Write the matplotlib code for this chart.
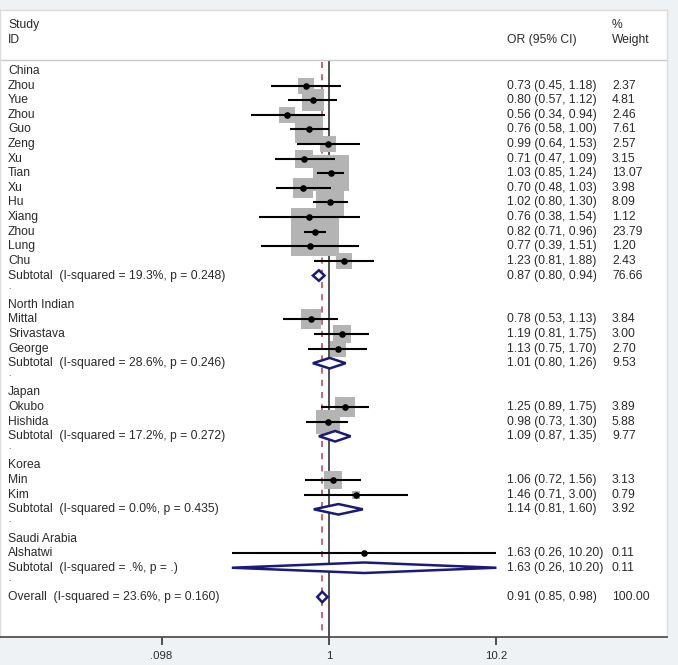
import matplotlib
matplotlib.use('Agg')
import matplotlib.pyplot as plt
from matplotlib.patches import Polygon

plt.rcParams['font.family'] = ['Liberation Sans', 'DejaVu Sans']

# data
group_names = ['China', 'North Indian', 'Japan', 'Korea', 'Saudi Arabia']
study_group = [0] * 13 + [1] * 3 + [2] * 2 + [3] * 2 + [4]
study_names = ['Zhou', 'Yue', 'Zhou', 'Guo', 'Zeng', 'Xu', 'Tian', 'Xu', 'Hu', 'Xiang', 'Zhou', 'Lung', 'Chu',
               'Mittal', 'Srivastava', 'George',
               'Okubo', 'Hishida',
               'Min', 'Kim',
               'Alshatwi']
study_or = [0.73, 0.80, 0.56, 0.76, 0.99, 0.71, 1.03, 0.70, 1.02, 0.76, 0.82, 0.77, 1.23,
            0.78, 1.19, 1.13, 1.25, 0.98, 1.06, 1.46, 1.63]
study_lo = [0.45, 0.57, 0.34, 0.58, 0.64, 0.47, 0.85, 0.48, 0.80, 0.38, 0.71, 0.39, 0.81,
            0.53, 0.81, 0.75, 0.89, 0.73, 0.72, 0.71, 0.26]
study_hi = [1.18, 1.12, 0.94, 1.00, 1.53, 1.09, 1.24, 1.03, 1.30, 1.54, 0.96, 1.51, 1.88,
            1.13, 1.75, 1.70, 1.75, 1.30, 1.56, 3.00, 10.20]
study_wt = [2.37, 4.81, 2.46, 7.61, 2.57, 3.15, 13.07, 3.98, 8.09, 1.12, 23.79, 1.20, 2.43,
            3.84, 3.00, 2.70, 3.89, 5.88, 3.13, 0.79, 0.11]

sub_or = [0.87, 1.01, 1.09, 1.14, 1.63]
sub_lo = [0.80, 0.80, 0.87, 0.81, 0.26]
sub_hi = [0.94, 1.26, 1.35, 1.60, 10.20]
sub_wt = [76.66, 9.53, 9.77, 3.92, 0.11]
sub_i2 = ['19.3%', '28.6%', '17.2%', '0.0%', '.%']
sub_p = ['0.248', '0.246', '0.272', '0.435', '.']

overall = (0.91, 0.85, 0.98, 100.00)
overall_i2, overall_p = '23.6%', '0.160'

tick_vals = [0.098, 1, 10.2]
tick_labels = ['.098', '1', '10.2']

txt_col = '#2a2a2a'
navy = '#1a1a7a'

fig = plt.figure(figsize=(6.78, 6.65), dpi=100, facecolor='#eef2f4')
ax = fig.add_axes([0, 28 / 665, 667 / 678, 627 / 665])
ax.set_facecolor('white')
ax.set_xscale('log')
ax.set_xlim(0.01043, 108.7)
ax.set_ylim(38.74, -4.175)

tr = ax.get_yaxis_transform()
fs = 8.7
x_lab, x_or, x_wt = 8 / 667, 507 / 667, 612 / 667


def row_text(y, label, est, lo, hi, wt):
    ax.text(x_lab, y, label, transform=tr, fontsize=fs, color=txt_col, va='center')
    ax.text(x_or, y, f'{est:.2f} ({lo:.2f}, {hi:.2f})', transform=tr, fontsize=fs,
            color=txt_col, va='center')
    ax.text(x_wt, y, f'{wt:.2f}', transform=tr, fontsize=fs, color=txt_col, va='center')


def diamond(y, est, lo, hi, h=0.36):
    ax.add_patch(Polygon([(lo, y), (est, y - h), (hi, y), (est, y + h)], closed=True,
                         facecolor='white', edgecolor=navy, lw=1.8, zorder=4))


# header
ax.text(x_lab, -3.15, 'Study', transform=tr, fontsize=fs, color=txt_col, va='center')
ax.text(x_lab, -2.12, 'ID', transform=tr, fontsize=fs, color=txt_col, va='center')
ax.text(x_or, -2.12, 'OR (95% CI)', transform=tr, fontsize=fs, color=txt_col, va='center')
ax.text(x_wt, -3.15, '%', transform=tr, fontsize=fs, color=txt_col, va='center')
ax.text(x_wt, -2.12, 'Weight', transform=tr, fontsize=fs, color=txt_col, va='center')
ax.axhline(-0.75, color='#c8c8c8', lw=1)

row = 0
for g, gname in enumerate(group_names):
    ax.text(x_lab, row, gname, transform=tr, fontsize=fs, color=txt_col, va='center')
    row += 1
    for i in range(len(study_names)):
        if study_group[i] != g:
            continue
        ax.scatter(study_or[i], row, marker='s', s=51.8 * study_wt[i], color='#b4b4b4',
                   linewidths=0, zorder=2)
        ax.hlines(row, study_lo[i], study_hi[i], color='black', lw=1.5, zorder=3)
        ax.scatter(study_or[i], row, marker='o', s=14, color='black', zorder=3)
        row_text(row, study_names[i], study_or[i], study_lo[i], study_hi[i], study_wt[i])
        row += 1
    diamond(row, sub_or[g], sub_lo[g], sub_hi[g])
    row_text(row, f'Subtotal  (I-squared = {sub_i2[g]}, p = {sub_p[g]})',
             sub_or[g], sub_lo[g], sub_hi[g], sub_wt[g])
    row += 1
    ax.text(x_lab, row - 0.2, '.', transform=tr, fontsize=6, color=txt_col, va='center')
    row += 1

diamond(row, overall[0], overall[1], overall[2])
row_text(row, f'Overall  (I-squared = {overall_i2}, p = {overall_p})', *overall)

# reference lines
ax.vlines(1, -0.75, 38.74, color='#333333', lw=1.2, zorder=1)
ax.vlines(overall[0], -0.6, 38.74, color='#b83a55', lw=1.1, linestyles=(0, (4, 4)), zorder=1)

ax.set_xticks(tick_vals)
ax.set_xticklabels(tick_labels)
ax.xaxis.set_minor_locator(matplotlib.ticker.NullLocator())
ax.tick_params(axis='x', direction='out', length=6, width=1.2, pad=4,
               labelsize=8.2, labelcolor=txt_col, color='#333333')
ax.set_yticks([])
for side in ['top', 'left', 'right']:
    ax.spines[side].set_color('#dcdcdc')
    ax.spines[side].set_linewidth(1)
ax.spines['bottom'].set_color('#444444')
ax.spines['bottom'].set_linewidth(1.2)

fig.savefig('out.png', dpi=100)
